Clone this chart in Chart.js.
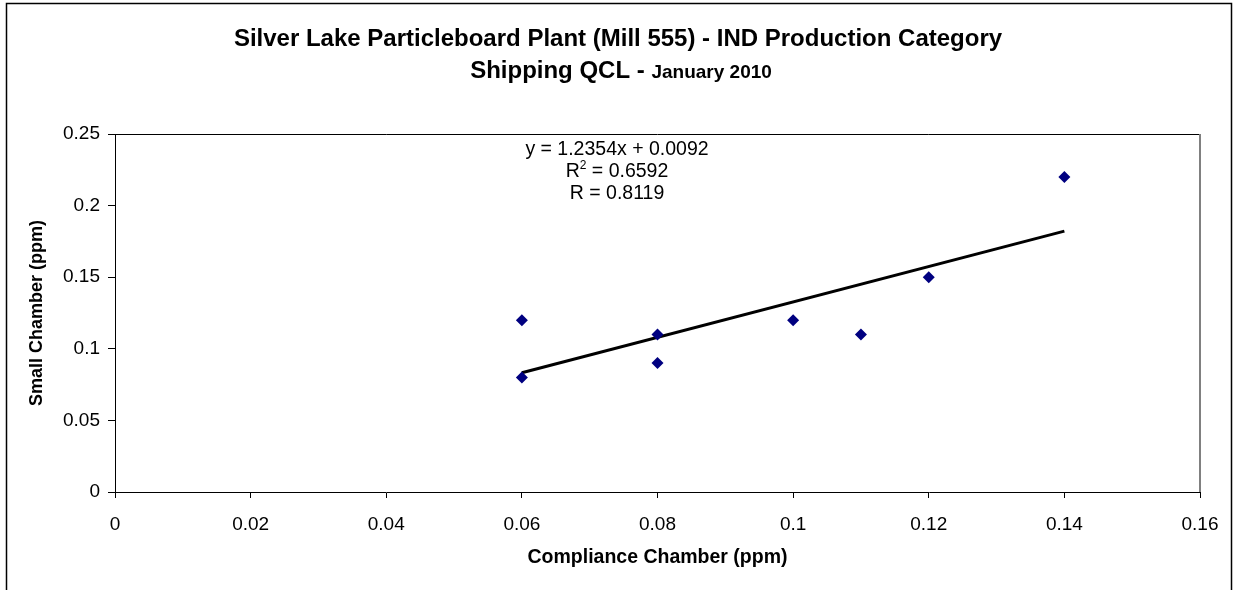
<!DOCTYPE html>
<html>
<head>
<meta charset="utf-8">
<script src="https://cdn.jsdelivr.net/npm/chart.js@4.4.0/dist/chart.umd.min.js"></script>
<style>
  html, body { margin: 0; padding: 0; background: #fff; }
  #wrap { width: 1236px; height: 590px; position: relative; }
</style>
</head>
<body>
<div id="wrap"><canvas id="scatterChart" width="1236" height="590"></canvas></div>
<script>
// data
const compliance = [0.06, 0.06, 0.08, 0.08, 0.10, 0.11, 0.12, 0.14];
const smallChamber = [0.12, 0.08, 0.11, 0.09, 0.12, 0.11, 0.15, 0.22];
const xTicks = [0, 0.02, 0.04, 0.06, 0.08, 0.10, 0.12, 0.14, 0.16];
const yTicks = [0, 0.05, 0.1, 0.15, 0.2, 0.25];

// trend line as printed on the chart
const slope = 1.2354;
const intercept = 0.0092;
const trendText = ['y = 1.2354x + 0.0092', 'R2 = 0.6592', 'R = 0.8119'];

const xMin = Math.min(...compliance);
const xMax = Math.max(...compliance);
const trendPoints = [
    { x: xMin, y: slope * xMin + intercept },
    { x: xMax, y: slope * xMax + intercept }
];

const FONT = 'Arial, "Liberation Sans", sans-serif';

// titles, plot frame, outer border, trendline label
const decorPlugin = {
    id: 'decor',
    afterDraw(chart) {
        const ctx = chart.ctx;
        const area = chart.chartArea;
        ctx.save();

        // outer border
        ctx.strokeStyle = '#000';
        ctx.lineWidth = 1.5;
        ctx.strokeRect(6.5, 3.5, 1225, 600);

        // plot frame top + right
        ctx.lineWidth = 1;
        ctx.strokeStyle = '#000';
        ctx.beginPath();
        ctx.moveTo(area.left, area.top + 0.5);
        ctx.lineTo(area.right, area.top + 0.5);
        ctx.stroke();
        ctx.strokeStyle = '#808080';
        ctx.lineWidth = 2;
        ctx.beginPath();
        ctx.moveTo(area.right, area.top);
        ctx.lineTo(area.right, area.bottom);
        ctx.stroke();

        // chart title
        ctx.fillStyle = '#000';
        ctx.textAlign = 'center';
        ctx.textBaseline = 'alphabetic';
        ctx.font = 'bold 24px ' + FONT;
        ctx.fillText('Silver Lake Particleboard Plant (Mill 555) - IND Production Category', 618, 46);

        const partA = 'Shipping QCL - ';
        const partB = 'January 2010';
        ctx.font = 'bold 24px ' + FONT;
        const wA = ctx.measureText(partA).width;
        ctx.font = 'bold 19px ' + FONT;
        const wB = ctx.measureText(partB).width;
        const startX = 621 - (wA + wB) / 2;
        ctx.textAlign = 'left';
        ctx.font = 'bold 24px ' + FONT;
        ctx.fillText(partA, startX, 78);
        ctx.font = 'bold 19px ' + FONT;
        ctx.fillText(partB, startX + wA, 78);

        // trendline label
        const cx = 617;
        ctx.font = '19.5px ' + FONT;
        ctx.textAlign = 'center';
        ctx.fillText(trendText[0], cx, 155);
        const r2a = 'R', r2b = ' = 0.6592';
        const wR = ctx.measureText(r2a).width;
        const wRest = ctx.measureText(r2b).width;
        ctx.font = '12px ' + FONT;
        const wSup = ctx.measureText('2').width;
        const sx = cx - (wR + wSup + wRest) / 2;
        ctx.textAlign = 'left';
        ctx.font = '19.5px ' + FONT;
        ctx.fillText(r2a, sx, 177);
        ctx.font = '12px ' + FONT;
        ctx.fillText('2', sx + wR, 169);
        ctx.font = '19.5px ' + FONT;
        ctx.fillText(r2b, sx + wR + wSup, 177);
        ctx.textAlign = 'center';
        ctx.fillText(trendText[2], cx, 199);

        ctx.restore();
    }
};

const chartData = {
    datasets: [{
        type: 'scatter',
        label: 'Small Chamber',
        data: compliance.map((x, i) => ({ x: x, y: smallChamber[i] })),
        pointStyle: 'rectRot',
        pointRadius: 6,
        pointHoverRadius: 6,
        backgroundColor: '#000080',
        borderColor: '#000080',
        borderWidth: 0
    }, {
        type: 'line',
        label: 'Trend',
        data: trendPoints,
        borderColor: '#000',
        borderWidth: 3,
        pointRadius: 0,
        fill: false
    }]
};

const chartConfig = {
    type: 'scatter',
    data: chartData,
    plugins: [decorPlugin],
    options: {
        responsive: false,
        animation: false,
        layout: {
            padding: { left: 0, top: 134, right: 36, bottom: 0 }
        },
        plugins: {
            legend: { display: false },
            tooltip: { enabled: false },
            title: { display: false }
        },
        scales: {
            x: {
                type: 'linear',
                min: 0,
                max: 0.16,
                afterBuildTicks: (scale) => { scale.ticks = xTicks.map(v => ({ value: v })); },
                afterFit: (scale) => { scale.height = 98; },
                ticks: {
                    color: '#000',
                    font: { family: FONT, size: 19 },
                    padding: 15,
                    maxRotation: 0,
                    callback: (v) => String(+v.toFixed(2))
                },
                grid: { drawOnChartArea: false, drawTicks: true, tickLength: 6, color: '#000' },
                border: { display: true, color: '#000', width: 1 },
                title: {
                    display: true,
                    text: 'Compliance Chamber (ppm)',
                    color: '#000',
                    font: { family: FONT, size: 19.5, weight: 'bold' },
                    padding: { top: 0, bottom: 21 }
                }
            },
            y: {
                type: 'linear',
                min: 0,
                max: 0.25,
                afterBuildTicks: (scale) => { scale.ticks = yTicks.map(v => ({ value: v })); },
                afterFit: (scale) => { scale.width = 115; },
                ticks: {
                    color: '#000',
                    font: { family: FONT, size: 19 },
                    padding: 8,
                    callback: (v) => String(+v.toFixed(2))
                },
                grid: { drawOnChartArea: false, drawTicks: true, tickLength: 7, color: '#000' },
                border: { display: true, color: '#000', width: 1 },
                title: {
                    display: true,
                    text: 'Small Chamber (ppm)',
                    color: '#000',
                    font: { family: FONT, size: 18, weight: 'bold' },
                    padding: { top: 26, bottom: 0 }
                }
            }
        }
    }
};

const ctx = document.getElementById('scatterChart').getContext('2d');
new Chart(ctx, chartConfig);
</script>
</body>
</html>
